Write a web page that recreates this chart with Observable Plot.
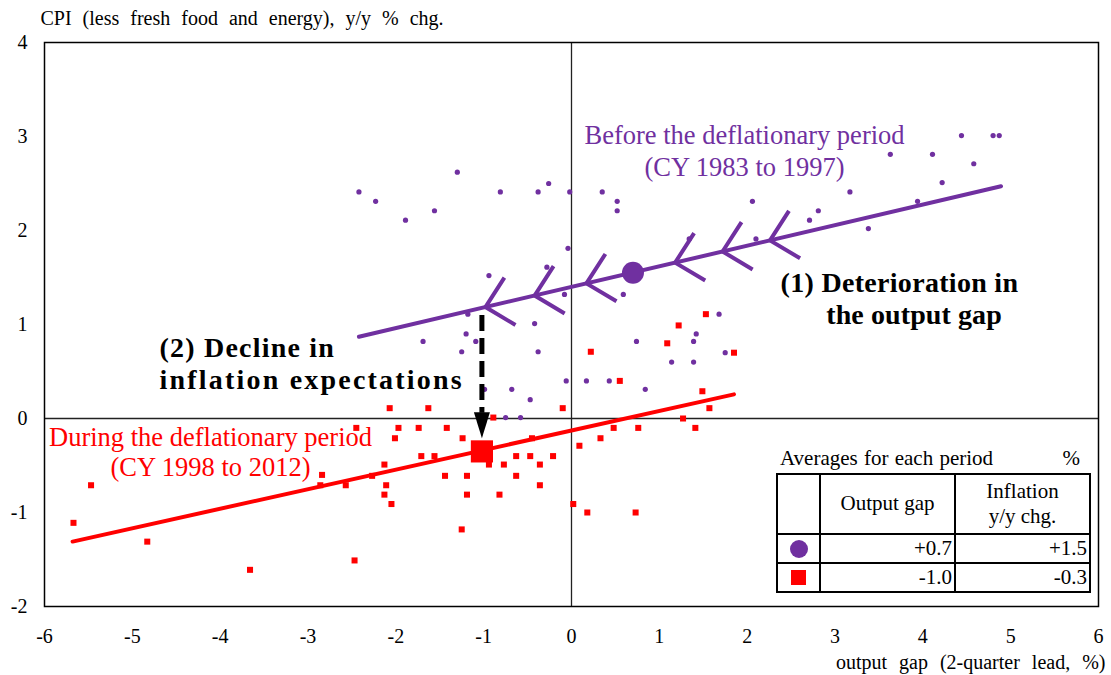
<!DOCTYPE html>
<html>
<head>
<meta charset="utf-8">
<script src="https://cdn.jsdelivr.net/npm/d3@7"></script>
<script src="https://cdn.jsdelivr.net/npm/@observablehq/plot@0.6"></script>
<style>
  body { margin: 0; background: white; font-family: "Liberation Serif", serif; }
  #wrap { position: relative; width: 1111px; height: 675px; }
  #avgTitle { position: absolute; left: 780px; top: 446px; width: 300px; font-size: 21px; display: flex; justify-content: space-between; word-spacing: 1px; }
  #avgTable { position: absolute; left: 776px; top: 473px; border-collapse: collapse; font-size: 21px; background: white; }
  #avgTable td { border: 2px solid black; padding: 0 2px; line-height: 1.2; }
</style>
</head>
<body>
<div id="wrap"></div>
<script>
// scatter points: [output gap, CPI y/y]
const beforePoints = [
  [-2.42,2.41],[-2.23,2.31],[-1.89,2.11],[-1.56,2.21],[-1.30,2.62],[-0.81,2.41],[-0.38,2.41],[-0.26,2.50],
  [-0.02,2.41],[0.35,2.41],[0.52,2.31],[0.52,2.21],[-0.04,1.81],[-0.28,1.61],[-0.94,1.52],[-0.08,1.32],
  [0.59,1.32],[-1.18,1.11],[-0.42,1.01],[-1.20,0.90],[-1.69,0.82],[-1.09,0.82],[-1.25,0.71],[-0.38,0.71],
  [-0.06,0.40],[0.17,0.40],[0.43,0.40],[-0.99,0.31],[-0.68,0.31],[-0.47,0.20],[0.84,0.31],[-0.75,0.01],
  [-0.58,0.01],[2.06,2.31],[3.17,2.41],[3.63,2.81],[4.11,2.81],[4.44,3.01],[4.80,3.01],[4.87,3.01],
  [4.58,2.71],[4.22,2.51],[3.94,2.31],[3.38,2.02],[2.81,2.21],[2.71,2.11],[2.10,1.91],[1.34,1.91],
  [1.68,1.11],[1.42,0.90],[1.39,0.82],[0.74,0.82],[1.75,0.70],[1.14,0.60],[1.39,0.60]
];
const duringPoints = [
  [-2.07,0.11],[-1.63,0.11],[-0.10,0.11],[-0.89,0.01],[0.22,0.71],[0.55,0.40],[1.09,0.80],[1.53,1.11],
  [1.22,0.99],[1.85,0.70],[1.49,0.29],[1.57,0.11],[-2.45,-0.10],[-5.47,-0.71],[-5.67,-1.11],[-4.83,-1.31],
  [-3.66,-1.61],[-2.47,-1.51],[-2.84,-0.60],[-2.86,-0.71],[-2.57,-0.71],[-1.97,-0.10],[-1.74,-0.10],[-1.42,-0.10],
  [-2.01,-0.21],[-1.24,-0.21],[-0.45,-0.21],[-1.71,-0.40],[-1.56,-0.40],[-0.63,-0.40],[-0.47,-0.40],[-0.21,-0.40],
  [-2.13,-0.49],[-0.77,-0.49],[-0.36,-0.49],[-0.94,-0.49],[-2.27,-0.61],[-1.44,-0.61],[-1.19,-0.61],[-0.63,-0.61],
  [-2.11,-0.71],[-0.36,-0.71],[-2.13,-0.81],[-1.19,-0.81],[-0.82,-0.81],[-2.05,-0.91],[-1.25,-1.18],[0.09,-0.29],
  [0.33,-0.21],[0.48,-0.10],[0.76,-0.10],[1.27,0.00],[1.41,-0.10],[0.02,-0.91],[0.18,-1.00],[0.73,-1.00]
];

// period averages (big markers)
const beforeAvg = [0.7, 1.55];
const duringAvg = [-1.02, -0.35];

// fitted lines: [xStart, xEnd], intercept, slope
const beforeFit = { xs: [-2.42, 4.89], a: 1.40, b: 0.219 };
const duringFit = { xs: [-5.68, 1.85], a: -0.128, b: 0.208 };

// where the "<" chevrons sit along the purple line
const chevronX = [-0.98, -0.42, 0.17, 1.18, 1.72, 2.26];

// dashed arrow (2): x, from y, to tip y
const dropArrow = { x: -1.02, y1: 1.10, y2: 0.06, tip: -0.21 };

// annotation lines
const periodLabels = [
  { x: 1.97, y: 2.86, t: "Before the deflationary period\n(CY 1983 to 1997)", c: "#7030A0", lh: 1.23 },
  { x: -4.11, y: -0.35, t: "During the deflationary period\n(CY 1998 to 2012)", c: "#FF0000", lh: 1.13 }
];
const boldLines = [
  { x: 3.734, y: 1.436, t: "(1) Deterioration in", anchor: "middle", ls: 0.3 },
  { x: 3.90, y: 1.096, t: "the output gap", anchor: "middle", ls: 0.1 },
  { x: -4.69, y: 0.745, t: "(2) Decline in", anchor: "start", ls: 1.2 },
  { x: -4.69, y: 0.404, t: "inflation expectations", anchor: "start", ls: 2.2 }
];
const yTitle = "CPI (less fresh food and energy), y/y % chg.";
const xTitle = "output gap (2-quarter lead, %)";

// table contents
const tableHead = ["", "Output gap", "Inflation<br>y/y chg."];
const tableRows = [
  { marker: "circle", color: "#7030A0", gap: "+0.7", infl: "+1.5" },
  { marker: "square", color: "#FF0000", gap: "-1.0", infl: "-0.3" }
];

const purple = "#7030A0";
const red = "#FF0000";

const W = 1111, H = 675, mL = 44, mR = 13, mT = 42, mB = 69;
const pxX = (W - mL - mR) / 12, pxY = (H - mT - mB) / 6;
const theta = Math.atan2(beforeFit.b * pxY, pxX);

const chevron = {
  draw(ctx) {
    const L = 35, phi = 44 * Math.PI / 180;
    ctx.moveTo(L * Math.cos(theta + phi), -L * Math.sin(theta + phi));
    ctx.lineTo(0, 0);
    ctx.lineTo(L * Math.cos(theta - phi), -L * Math.sin(theta - phi));
  }
};
const downHead = {
  draw(ctx) {
    ctx.moveTo(-8, -26);
    ctx.lineTo(8, -26);
    ctx.lineTo(0, 0);
    ctx.closePath();
  }
};

const fitLine = f => f.xs.map(x => ({x, y: f.a + f.b * x}));
const pts = arr => arr.map(([x, y]) => ({x, y}));

const plot = Plot.plot({
  width: W,
  height: H,
  marginLeft: mL,
  marginRight: mR,
  marginTop: mT,
  marginBottom: mB,
  style: { fontFamily: "Liberation Serif", fontSize: "20px", color: "black", background: "white" },
  x: { domain: [-6, 6], ticks: 12, tickSize: 0, tickPadding: 22, tickFormat: d => String(d), label: null },
  y: { domain: [-2, 4], ticks: 6, tickSize: 0, tickPadding: 17, tickFormat: d => String(d), label: null },
  marks: [
    Plot.ruleY([0], { stroke: "#222", strokeWidth: 1.3 }),
    Plot.ruleX([0], { stroke: "#222", strokeWidth: 1.3 }),
    Plot.dot(pts(beforePoints), { x: "x", y: "y", r: 2.6, fill: purple, stroke: "none" }),
    Plot.dot(pts(duringPoints), { x: "x", y: "y", symbol: "square", r: 3.4, fill: red, stroke: "none" }),
    Plot.line(fitLine(beforeFit), { x: "x", y: "y", stroke: purple, strokeWidth: 4 }),
    Plot.line(fitLine(duringFit), { x: "x", y: "y", stroke: red, strokeWidth: 4 }),
    Plot.dot(chevronX.map(x => ({x, y: beforeFit.a + beforeFit.b * x})), {
      x: "x", y: "y", symbol: chevron, fill: "none", stroke: purple, strokeWidth: 4
    }),
    Plot.dot([{x: beforeAvg[0], y: beforeAvg[1]}], { x: "x", y: "y", r: 11, fill: purple, stroke: "none" }),
    Plot.dot([{x: duringAvg[0], y: duringAvg[1]}], { x: "x", y: "y", symbol: "square", r: 12.5, fill: red, stroke: "none" }),
    Plot.link([dropArrow], { x1: "x", x2: "x", y1: "y1", y2: "y2", stroke: "black", strokeWidth: 5, strokeDasharray: "16,7" }),
    Plot.dot([dropArrow], { x: "x", y: "tip", symbol: downHead, fill: "black", stroke: "none" }),
    ...periodLabels.map(d => Plot.text([d], {
      x: "x", y: "y", text: "t", fill: d.c, fontSize: 26.5, lineHeight: d.lh, textAnchor: "middle"
    })),
    ...boldLines.map(d => Plot.text([d], {
      x: "x", y: "y", text: "t", fill: "black", fontSize: 28, fontWeight: "bold",
      textAnchor: d.anchor, lineAnchor: "middle"
    })),
    Plot.text([yTitle], {
      frameAnchor: "top-left", text: d => d, textAnchor: "start", lineAnchor: "middle", dx: -4, dy: -24, fontSize: 20
    }),
    Plot.text([xTitle], {
      frameAnchor: "bottom-right", text: d => d, textAnchor: "end", lineAnchor: "middle", dx: 7, dy: 56, fontSize: 20
    }),
    Plot.frame({ stroke: "black", strokeWidth: 1.5 })
  ]
});

// the original text is set with extra word / letter spacing
for (const t of plot.querySelectorAll("text")) {
  if (t.textContent === yTitle) t.style.wordSpacing = "6px";
  if (t.textContent === xTitle) t.style.wordSpacing = "7px";
  const b = boldLines.find(d => d.t === t.textContent);
  if (b) t.style.letterSpacing = b.ls + "px";
}

const wrap = document.getElementById("wrap");
wrap.append(plot);

// averages table
const title = document.createElement("div");
title.id = "avgTitle";
title.innerHTML = "<span>Averages for each period</span><span>%</span>";
wrap.append(title);

const table = document.createElement("table");
table.id = "avgTable";
let html = "<tr style='height:60px'>" + tableHead.map((h, i) =>
  `<td style='width:${i ? 129 : 37}px;text-align:center'>${h}</td>`).join("") + "</tr>";
for (const r of tableRows) {
  const m = r.marker === "circle"
    ? `<span style='display:inline-block;width:18px;height:18px;border-radius:50%;background:${r.color}'></span>`
    : `<span style='display:inline-block;width:15px;height:15px;background:${r.color}'></span>`;
  html += `<tr style='height:29px'><td style='text-align:center;line-height:0'>${m}</td>` +
    `<td style='text-align:right'>${r.gap}</td><td style='text-align:right'>${r.infl}</td></tr>`;
}
table.innerHTML = html;
wrap.append(table);
</script>
</body>
</html>
